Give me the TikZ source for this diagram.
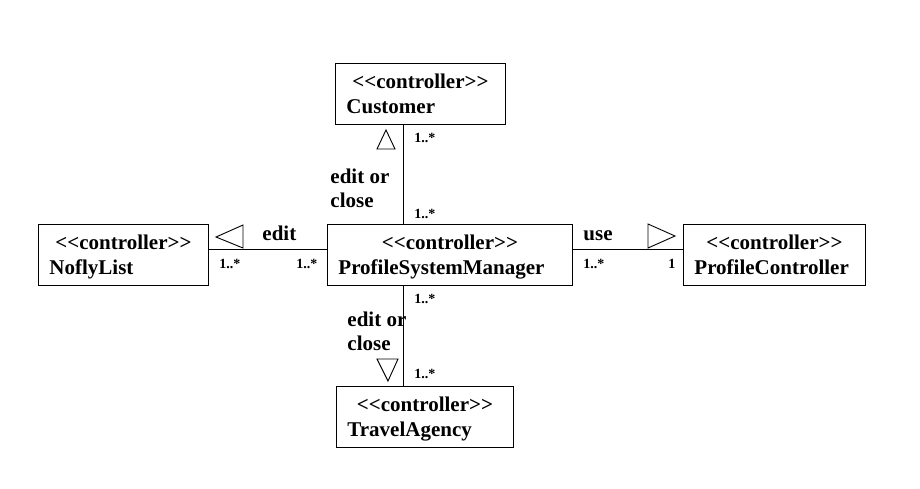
\documentclass[tikz,border=0pt]{standalone}
\usepackage{fontspec}
\newfontfamily\umlfont{Liberation Serif}
\begin{document}
\begin{tikzpicture}[x=1pt, y=-1pt, line width=0.9pt,
    ctrl/.style={draw, rectangle, anchor=north west, inner xsep=11pt,
        minimum height=61pt, text width=#1, align=left,
        text height=14pt, text depth=25pt,
        font=\umlfont\bfseries\fontsize{21}{25}\selectfont},
    role/.style={anchor=base west, align=left, inner sep=0pt,
        font=\umlfont\bfseries\fontsize{21}{24}\selectfont},
    mult/.style={anchor=base west, inner sep=0pt,
        font=\umlfont\bfseries\fontsize{14}{16}\selectfont}]
    \useasboundingbox (0,0) rectangle (920,488);

    \node[ctrl=148pt] (cust) at (335,63) {\makebox[\linewidth]{<<controller>>}\\Customer};
    \node[ctrl=148pt] (nofly) at (38,224) {\makebox[\linewidth]{<<controller>>}\\NoflyList};
    \node[ctrl=223pt] (psm) at (327,224) {\makebox[\linewidth]{<<controller>>}\\ProfileSystemManager};
    \node[ctrl=160pt] (pc) at (683,224) {\makebox[\linewidth]{<<controller>>}\\ProfileController};
    \node[ctrl=155pt] (tvl) at (336,386) {\makebox[\linewidth]{<<controller>>}\\TravelAgency};

    \coordinate (vx) at (403,0);
    \coordinate (hy) at (0,249);

    \draw (cust.south -| vx) -- (psm.north -| vx);
    \draw (nofly.east |- hy) -- (psm.west |- hy);
    \draw (psm.east |- hy) -- (pc.west |- hy);
    \draw (psm.south -| vx) -- (tvl.north -| vx);

    % direction marks
    \draw (377,149) -- (386,130) -- (395,149) -- cycle;
    \draw (243,225) -- (216,237) -- (243,248) -- cycle;
    \draw (648,224) -- (675,236) -- (648,248) -- cycle;
    \draw (377,359) -- (388,381) -- (398,359) -- cycle;

    \node[role] (custR) at (330,207) {edit or\\close};
    \node[mult] (custM1) at (414,142) {1..*};
    \node[mult] (custM2) at (414,218) {1..*};

    \node[role] (noflyR) at (262,240) {edit};
    \node[mult] (noflyM1) at (219,268) {1..*};
    \node[mult] (noflyM2) at (296,268) {1..*};

    \node[role] (pcR) at (583,240) {use};
    \node[mult] (pcM1) at (583,268) {1..*};
    \node[mult] (pcM2) at (668,268) {1};

    \node[role] (tvlR) at (347,350) {edit or\\close};
    \node[mult] (tvlM1) at (414,303) {1..*};
    \node[mult] (tvlM2) at (414,378) {1..*};
\end{tikzpicture}
\end{document}
